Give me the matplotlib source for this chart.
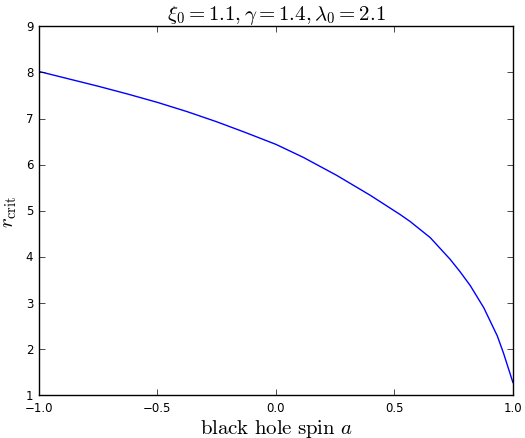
import matplotlib
matplotlib.use("Agg")
import matplotlib.pyplot as plt

# spin a and critical radius
spin = [-1.0, -0.875, -0.75, -0.625, -0.5, -0.375, -0.25, -0.13, 0.0,
        0.115, 0.256, 0.397, 0.524, 0.566, 0.651, 0.735, 0.777, 0.820,
        0.877, 0.934, 0.96, 1.0]
r_crit = [8.02, 7.86, 7.70, 7.53, 7.35, 7.15, 6.93, 6.70, 6.44,
          6.16, 5.77, 5.34, 4.92, 4.77, 4.42, 3.95, 3.68, 3.38,
          2.90, 2.29, 1.92, 1.28]

plt.style.use("classic")
plt.rcParams["mathtext.fontset"] = "cm"

fig = plt.figure(figsize=(5.25, 4.39), dpi=100)
ax = fig.add_axes([0.074, 0.097, 0.903, 0.841])
ax.plot(spin, r_crit, color="b", linewidth=1)
ax.set_xlim(-1, 1)
ax.set_ylim(1, 9)
ax.tick_params(labelsize=8.5)
ax.set_xlabel(r"$\mathrm{black\ hole\ spin}\ a$", fontsize=15, labelpad=2)
ax.set_ylabel(r"$r_\mathrm{crit}$", fontsize=15)
ax.set_title(r"$\xi_0 = 1.1, \gamma = 1.4, \lambda_0 = 2.1$", fontsize=15)
fig.savefig("out.png", dpi=100)
